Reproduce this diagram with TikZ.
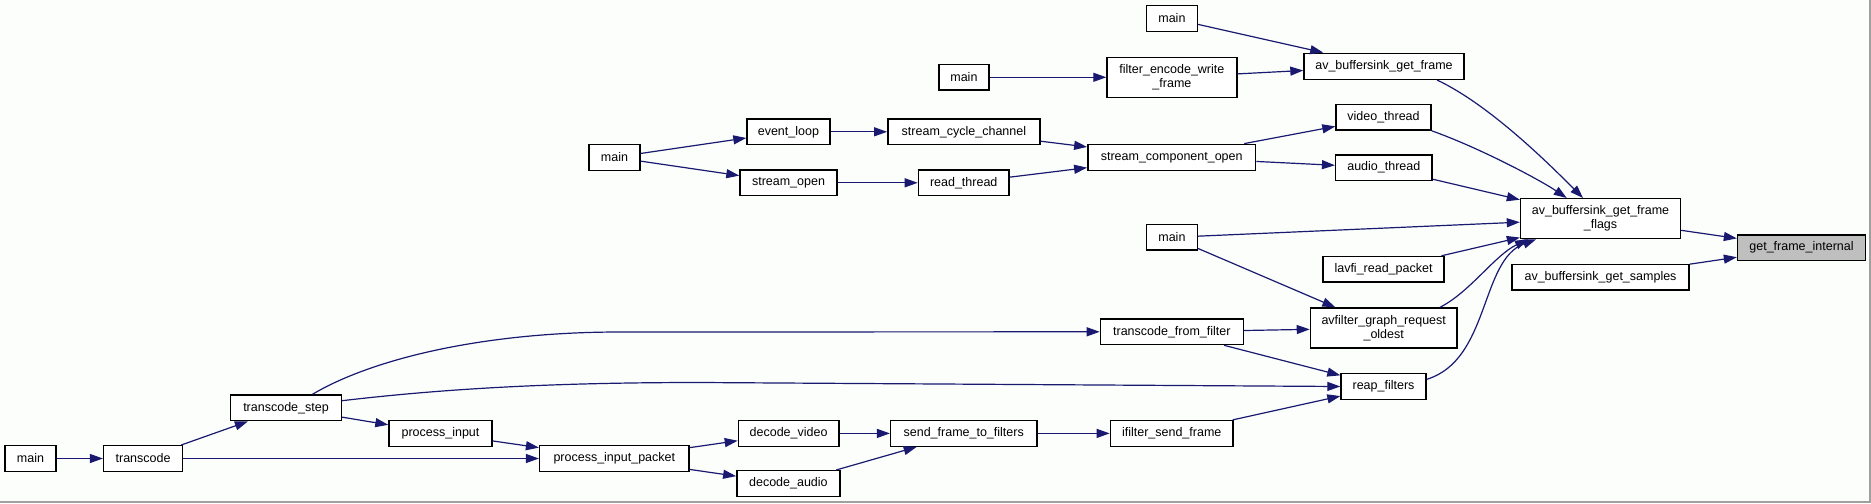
\documentclass[tikz,border=0pt]{standalone}
\usepackage{fontspec}
\setmainfont{Liberation Sans}
\usetikzlibrary{arrows.meta}
\definecolor{edgec}{RGB}{25,25,112}
\definecolor{bgc}{RGB}{252,254,252}
\definecolor{framec}{RGB}{160,160,160}
\definecolor{hl}{RGB}{191,191,191}
\begin{document}
\begin{tikzpicture}[x=0.5pt,y=-0.5pt,
  fn/.style={draw=black,line width=0.7pt,fill=white,inner sep=0pt,minimum height=12.8pt,align=center,font=\fontsize{6.25}{7}\selectfont},
  fn2/.style={fn,minimum height=20pt},
  edge/.style={draw=edgec,line width=0.6pt,-{Triangle[length=6.5pt,width=4.5pt]}}]
\fill[bgc] (0,0) rectangle (1871,503);
\useasboundingbox (0,0) rectangle (1871,503);
\draw[framec,line width=1pt] (0,502) -- (1870,502) -- (1870,0);
% nodes
\node[fn,minimum width=25.5pt] (mainA) at (30.5,458.5) {main};
\node[fn,minimum width=39.5pt] (transcode) at (143.1,458.5) {transcode};
\node[fn,minimum width=55.35pt] (tstep) at (286,407.9) {transcode\_step};
\node[fn,minimum width=51.5pt] (procin) at (440.5,433.4) {process\_input};
\node[fn,minimum width=74.7pt] (pip) at (614.3,458.5) {process\_input\_packet};
\node[fn,minimum width=50.2pt] (dvideo) at (788.6,433.4) {decode\_video};
\node[fn,minimum width=51.6pt,minimum height=13pt] (daudio) at (788.4,483.7) {decode\_audio};
\node[fn,minimum width=73.1pt] (sftf) at (963.7,433.4) {send\_frame\_to\_filters};
\node[fn,minimum width=61.35pt] (ifsf) at (1171.7,433.4) {ifilter\_send\_frame};
\node[fn,minimum width=71.4pt] (tff) at (1171.8,331.8) {transcode\_from\_filter};
\node[fn,minimum width=42.5pt] (reap) at (1383.5,386.5) {reap\_filters};
\node[fn2,minimum width=73.3pt] (agro) at (1383.7,328) {avfilter\_graph\_request\\\_oldest};
\node[fn,minimum width=25.3pt] (mainM) at (1171.9,237.3) {main};
\node[fn,minimum width=60.5pt] (lavfi) at (1383.5,269.3) {lavfi\_read\_packet};
\node[fn2,minimum width=80pt] (flags) at (1600.5,218.7) {av\_buffersink\_get\_frame\\\_flags};
\node[fn,minimum width=88.5pt] (samples) at (1600.5,277.3) {av\_buffersink\_get\_samples};
\node[fn,minimum width=64pt,fill=hl] (gfi) at (1801.5,247.7) {get\_frame\_internal};
\node[fn,minimum width=48.2pt] (audio) at (1383.8,167.7) {audio\_thread};
\node[fn,minimum width=47.5pt] (video) at (1383.5,117.3) {video\_thread};
\node[fn,minimum width=80pt,minimum height=13pt] (gf) at (1384,66.3) {av\_buffersink\_get\_frame};
\node[fn,minimum width=83.9pt,minimum height=13pt] (sco) at (1171.7,157.3) {stream\_component\_open};
\node[fn,minimum width=25.3pt] (mainT) at (1171.9,18.5) {main};
\node[fn2,minimum width=64.9pt] (fewf) at (1171.9,77.3) {filter\_encode\_write\\\_frame};
\node[fn,minimum width=25.1pt] (mainF) at (963.9,77.3) {main};
\node[fn,minimum width=76.1pt] (scc) at (963.9,131.8) {stream\_cycle\_channel};
\node[fn,minimum width=45.3pt] (read) at (963.7,182.8) {read\_thread};
\node[fn,minimum width=41.4pt] (evl) at (788.4,131.8) {event\_loop};
\node[fn,minimum width=48.5pt] (sopen) at (788.5,182.8) {stream\_open};
\node[fn,minimum width=25.5pt,minimum height=13pt] (mainL) at (614.5,157.3) {main};
% edges (straight)
\draw[edge] (mainA) -- (transcode);
\draw[edge] (transcode) -- (tstep);
\draw[edge] (transcode) -- (pip);
\draw[edge] (tstep) -- (procin);
\draw[edge] (procin) -- (pip);
\draw[edge] (pip) -- (dvideo);
\draw[edge] (pip) -- (daudio);
\draw[edge] (dvideo) -- (sftf);
\draw[edge] (daudio) -- (sftf);
\draw[edge] (sftf) -- (ifsf);
\draw[edge] (ifsf) -- (reap);
\draw[edge] (tff) -- (agro);
\draw[edge] (tff) -- (reap);
\draw[edge] (mainM) -- (agro);
\draw[edge] (mainM) -- (flags);
\draw[edge] (lavfi) -- (flags);
\draw[edge] (audio) -- (flags);
\draw[edge] (flags) -- (gfi);
\draw[edge] (samples) -- (gfi);
\draw[edge] (mainT) -- (gf);
\draw[edge] (mainF) -- (fewf);
\draw[edge] (fewf) -- (gf);
\draw[edge] (mainL) -- (evl);
\draw[edge] (mainL) -- (sopen);
\draw[edge] (evl) -- (scc);
\draw[edge] (sopen) -- (read);
\draw[edge] (scc) -- (sco);
\draw[edge] (read) -- (sco);
\draw[edge] (sco) -- (video);
\draw[edge] (sco) -- (audio);
% edges (curved)
\draw[edge] ([xshift=26.5pt]gf.south) .. controls (1490,105) and (1550,165) .. ([xshift=-8.75pt]flags.north);
\draw[edge] (video.south east) .. controls (1480,148) and (1540,180) .. ([xshift=-16.9pt]flags.north);
\draw[edge] ([xshift=28.15pt]agro.north) .. controls (1470,292) and (1495,255) .. ([xshift=-36.25pt]flags.south);
\draw[edge] ([yshift=3.6pt]reap.east) .. controls (1490,360) and (1480,260) .. ([xshift=-32.25pt]flags.south);
\draw[edge] ([xshift=13.15pt]tstep.north) .. controls (370,360) and (480,332) .. (620,332) -- (tff.west);
\draw[edge] ([yshift=3.6pt]tstep.east) .. controls (450,388) and (560,382.5) .. (700,382.5) -- (reap.west);
\end{tikzpicture}
\end{document}
